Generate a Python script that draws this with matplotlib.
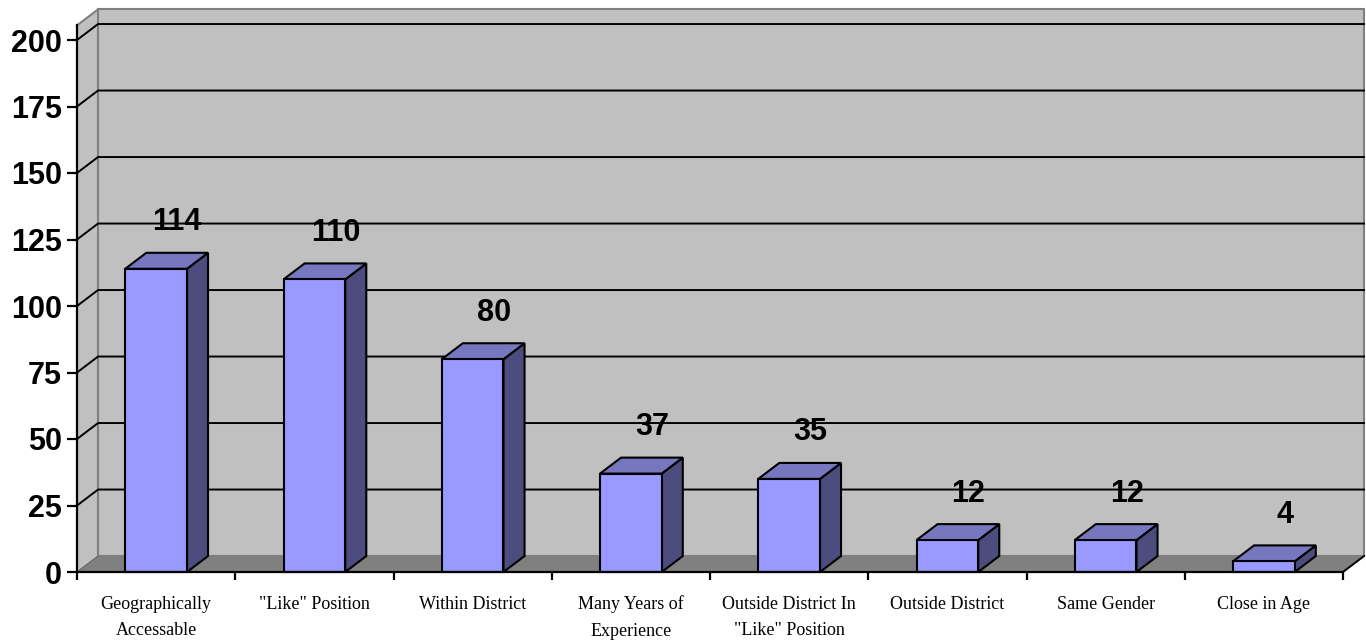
import matplotlib.pyplot as plt
from matplotlib.patches import Polygon, Rectangle

# Data
categories = ["Geographically\nAccessable", '"Like" Position', "Within District",
              "Many Years of\nExperience", 'Outside District In\n"Like" Position',
              "Outside District", "Same Gender", "Close in Age"]
counts = [114, 110, 80, 37, 35, 12, 12, 4]
yticks = [0, 25, 50, 75, 100, 125, 150, 175, 200]

front_col = '#9999FF'
top_col = '#7777C0'
side_col = '#4C4C7E'

fig = plt.figure(figsize=(13.66, 6.42), dpi=100)
ax = fig.add_axes([77 / 1366, 70 / 642, 1266 / 1366, 532 / 642])
n = len(counts)
ax.set_xlim(0, n)
ax.set_ylim(0, 200)
ax.patch.set_visible(False)
for s in ax.spines.values():
    s.set_visible(False)

# fake 3D depth, in data units
DX, DY = 0.133, 6.0
TOP = 205.5
GRID_LW = 1.4
EDGE_LW = 1.5

# walls
ax.add_patch(Polygon([(0, 0), (DX, DY), (DX, TOP + DY), (0, TOP)], closed=True,
                     fc='#C0C0C0', ec='none', clip_on=False, zorder=0))
ax.add_patch(Rectangle((DX, DY), n, TOP, fc='#C0C0C0', ec='#808080', lw=1.5,
                       clip_on=False, zorder=0))
ax.plot([0, DX], [TOP, TOP + DY], color='#808080', lw=1.5, clip_on=False, zorder=1)

# floor
ax.add_patch(Polygon([(0, 0), (n, 0), (n + DX, DY), (DX, DY)], closed=True,
                     fc='#808080', ec='none', clip_on=False, zorder=1))
ax.plot([0, DX], [0, DY], color='#606060', lw=0.8, clip_on=False, zorder=1)
ax.plot([n, n + DX], [0, DY], color='black', lw=GRID_LW, clip_on=False, zorder=2)

# gridlines on side and back walls
for v in yticks[1:]:
    ax.plot([0, DX, n + DX], [v, v + DY, v + DY], color='black', lw=GRID_LW,
            clip_on=False, zorder=1)

# axis lines
ax.plot([0, 0], [0, TOP], color='black', lw=1.6, clip_on=False, zorder=4)
ax.plot([0, n], [0, 0], color='black', lw=1.6, clip_on=False, zorder=4)

# bars
W = 0.39
for i, c in enumerate(counts):
    x0 = i + 0.5 - W / 2
    x1 = x0 + W
    ax.add_patch(Polygon([(x1, 0), (x1 + DX, DY), (x1 + DX, c + DY), (x1, c)], closed=True,
                         fc=side_col, ec='black', lw=EDGE_LW, joinstyle='miter',
                         clip_on=False, zorder=3))
    ax.add_patch(Polygon([(x0, c), (x1, c), (x1 + DX, c + DY), (x0 + DX, c + DY)], closed=True,
                         fc=top_col, ec='black', lw=EDGE_LW, joinstyle='miter',
                         clip_on=False, zorder=3))
    ax.add_patch(Rectangle((x0, 0), W, c, fc=front_col, ec='black', lw=EDGE_LW,
                           clip_on=False, zorder=3))
    ax.text(i + 0.5 + DX, c + DY + 11.5, str(c), ha='center', va='center',
            fontsize=22, fontweight='bold', family='Liberation Sans', zorder=5)

# ticks
ax.set_yticks(yticks)
ax.set_yticklabels([str(v) for v in yticks], fontsize=22, fontweight='bold',
                   family='Liberation Sans')
ax.tick_params(axis='y', length=7.2, width=1.6, pad=3.5)

ax.set_xticks(range(n + 1))
ax.set_xticklabels([])
ax.tick_params(axis='x', which='major', length=5.8, width=1.6)
ax.set_xticks([i + 0.5 for i in range(n)], minor=True)
ax.set_xticklabels(categories, minor=True, fontsize=13, family='Liberation Serif',
                   linespacing=1.7)
ax.tick_params(axis='x', which='minor', length=0, pad=17)

fig.savefig('out.png', dpi=100, facecolor='white')
